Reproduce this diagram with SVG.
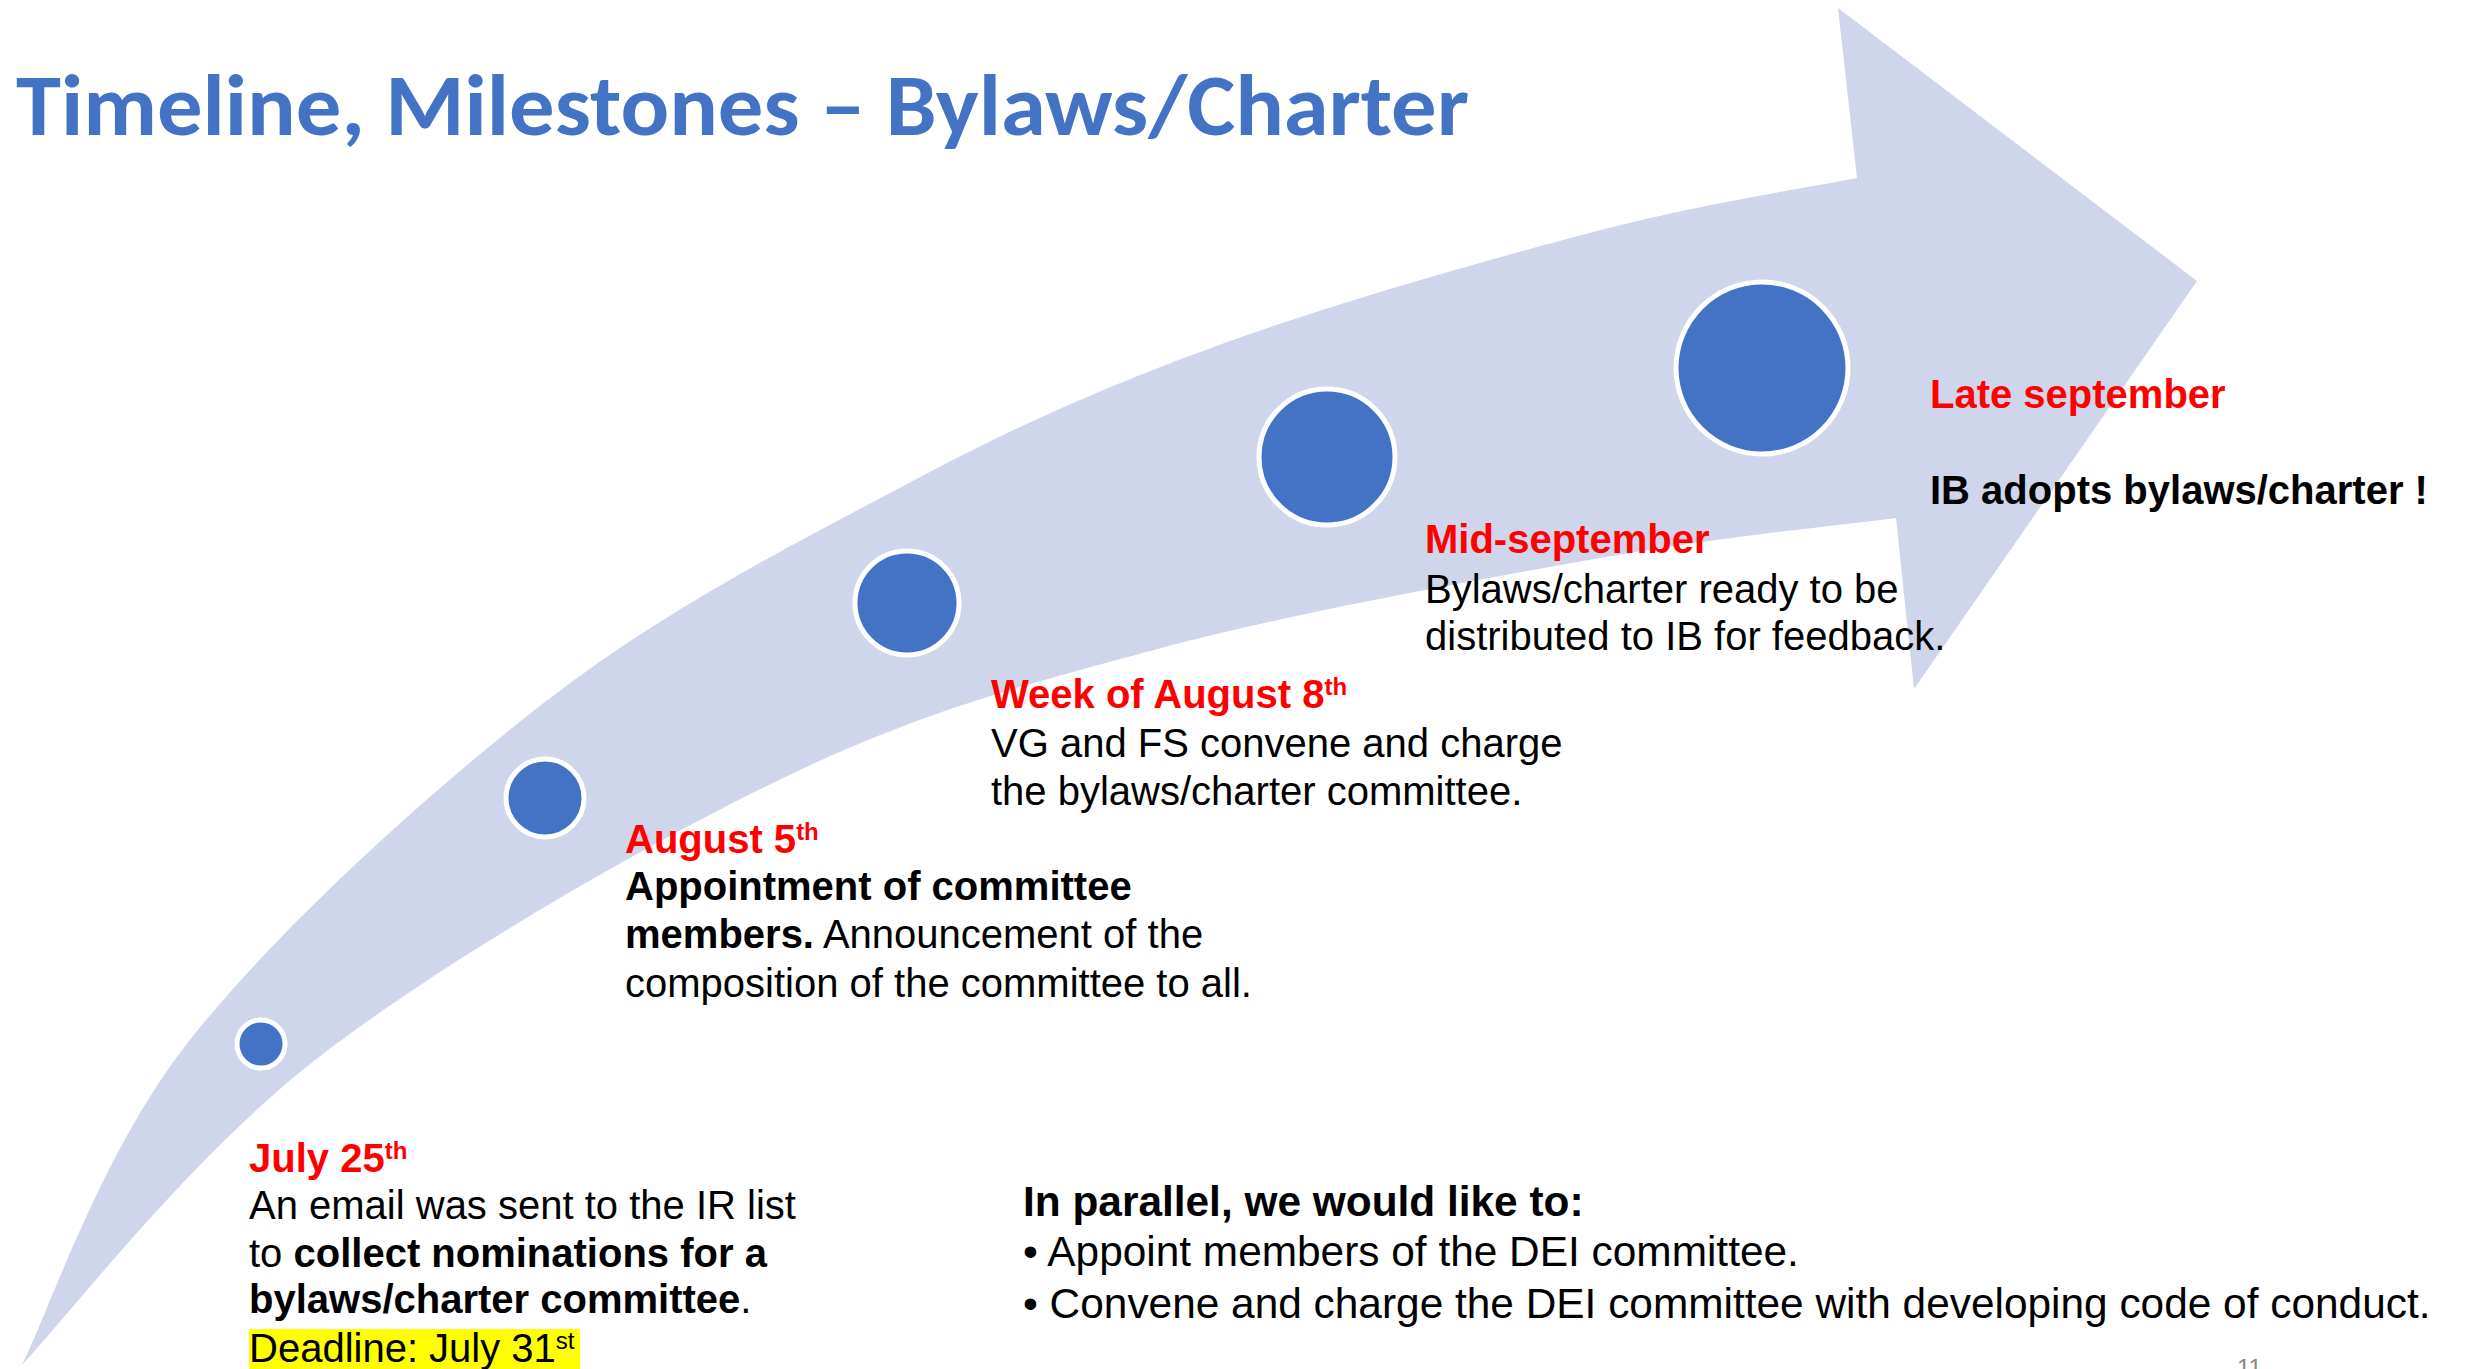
<svg xmlns="http://www.w3.org/2000/svg" width="2465" height="1369" viewBox="0 0 2465 1369">
<style>
.title{font-family:Carlito,Lato,"Open Sans",sans-serif;font-weight:bold;font-size:86px;fill:#4472C4}
.t{font-family:"Liberation Sans",Arial,sans-serif;font-size:40px;fill:#000}
.t42{font-family:"Liberation Sans",Arial,sans-serif;font-size:42.4px;fill:#000}
.date{font-weight:bold;fill:#FF0000}
.b{font-weight:bold}
.dot{fill:#4472C4;stroke:#FFFFFF;stroke-width:5}
.band{fill:#CFD5EA}
.pg{font-family:"Liberation Sans",Arial,sans-serif;font-size:24px;fill:#898989}
</style>
<rect width="2465" height="1369" fill="#FFFFFF"/>
<g id="connectors">
<path class="band" d="M22,1365 C49.8,1309.3 101.8,1151.2 189,1041 C276.2,930.8 425.3,794.8 545,702 C664.7,609.2 794.7,543.5 907,484 C1019.3,424.5 1103.3,387.3 1219,345 C1334.7,302.7 1494.7,257.8 1601,230 C1707.3,202.2 1814.3,186.7 1857,178 L1838,8 L2197,281 L1914,689 L1896,518 C1846.7,524.7 1723.7,536 1600,558 C1476.3,580 1290.8,613 1154,650 C1017.2,687 918.2,712.2 779,780 C639.8,847.8 445.2,959.8 319,1057 C192.8,1154.2 71.5,1312 22,1365 Z"/>
</g>
<g id="title">
<text class="title" x="16" y="135" textLength="1453" lengthAdjust="spacingAndGlyphs">Timeline, Milestones – Bylaws/Charter</text>
</g>
<g id="m1">
<circle class="dot" cx="261" cy="1044" r="24"/>
<rect x="249" y="1329" width="331" height="40" fill="#FFFF00"/>
<text class="t"><tspan class="date" x="249" y="1172">July 25<tspan font-size="24" dy="-13">th</tspan></tspan></text>
<text class="t" x="249" y="1219">An email was sent to the IR list</text>
<text class="t" x="249" y="1267">to <tspan class="b">collect nominations for a</tspan></text>
<text class="t" x="249" y="1313"><tspan class="b">bylaws/charter committee</tspan>.</text>
<text class="t" x="249" y="1362">Deadline: July 31<tspan font-size="24" dy="-13">st</tspan></text>
</g>
<g id="m2">
<circle class="dot" cx="545" cy="798" r="39"/>
<text class="t"><tspan class="date" x="625" y="853">August 5<tspan font-size="24" dy="-13">th</tspan></tspan></text>
<text class="t b" x="625" y="900">Appointment of committee</text>
<text class="t" x="625" y="948"><tspan class="b">members.</tspan> Announcement of the</text>
<text class="t" x="625" y="997">composition of the committee to all.</text>
</g>
<g id="m3">
<circle class="dot" cx="907" cy="603" r="52"/>
<text class="t"><tspan class="date" x="991" y="708">Week of August 8<tspan font-size="24" dy="-13">th</tspan></tspan></text>
<text class="t" x="991" y="757">VG and FS convene and charge</text>
<text class="t" x="991" y="805">the bylaws/charter committee.</text>
</g>
<g id="m4">
<circle class="dot" cx="1327" cy="457" r="68"/>
<text class="t date" x="1425" y="553">Mid-september</text>
<text class="t" x="1425" y="603">Bylaws/charter ready to be</text>
<text class="t" x="1425" y="650">distributed to IB for feedback.</text>
</g>
<g id="m5">
<circle class="dot" cx="1762" cy="368" r="86"/>
<text class="t date" x="1930" y="408">Late september</text>
<text class="t b" x="1930" y="504">IB adopts bylaws/charter !</text>
</g>
<g id="parallel">
<text class="t42 b" x="1023" y="1216">In parallel, we would like to:</text>
<text class="t42" x="1023" y="1266">• Appoint members of the DEI committee.</text>
<text class="t42" x="1023" y="1318">• Convene and charge the DEI committee with developing code of conduct.</text>
</g>
<g id="page">
<text class="pg" x="2237" y="1376">11</text>
</g>
</svg>
